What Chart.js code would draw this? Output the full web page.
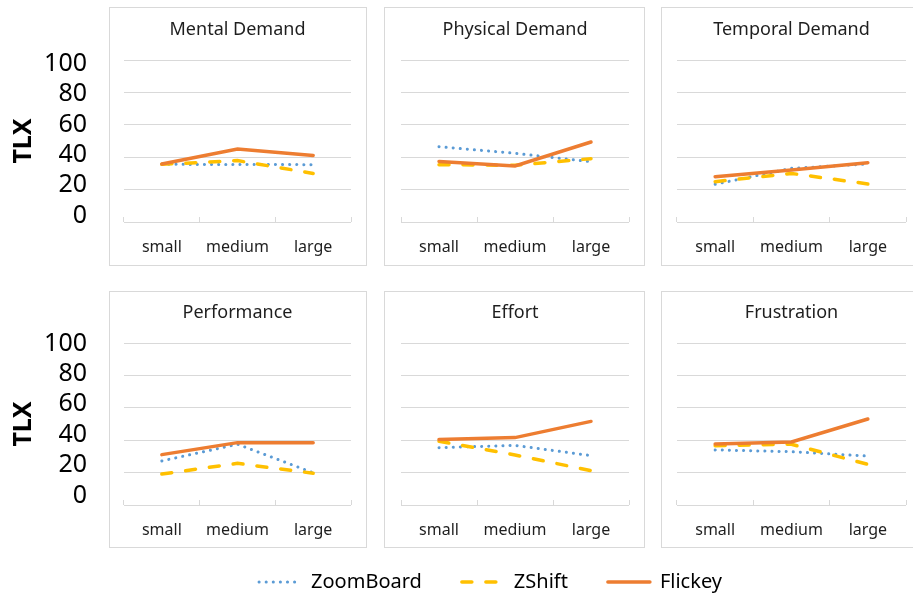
<!DOCTYPE html>
<html>
<head>
<meta charset="utf-8">
<script src="https://cdn.jsdelivr.net/npm/chart.js@4.4.1/dist/chart.umd.min.js"></script>
<style>
  html, body { margin: 0; padding: 0; background: #fff; }
  body { width: 913px; height: 597px; position: relative; overflow: hidden; }
  .box { position: absolute; border: 1px solid #d9d9d9; box-sizing: border-box; }
  canvas { position: absolute; }
</style>
</head>
<body>
<script>
const sizes = ['small', 'medium', 'large'];
const seriesNames = ['ZoomBoard', 'ZShift', 'Flickey'];
const panelTitles = ['Mental Demand', 'Physical Demand', 'Temporal Demand',
                     'Performance', 'Effort', 'Frustration'];

// TLX per panel (same order as panelTitles), values for small / medium / large
const zoomBoard = [
  [35.6, 35.5, 35.4],
  [46.5, 42.4, 37.2],
  [23.3, 33.1, 35.8],
  [27.2, 37.5, 19.9],
  [35.4, 36.8, 30.5],
  [34.0, 32.9, 30.2]
];
const zShift = [
  [35.6, 37.9, 30.0],
  [35.4, 35.0, 39.1],
  [24.9, 30.0, 23.5],
  [19.1, 25.7, 19.6],
  [39.3, 30.9, 21.2],
  [36.6, 37.5, 25.1]
];
const flickey = [
  [35.8, 45.1, 41.1],
  [37.4, 34.6, 49.4],
  [28.0, 32.1, 36.6],
  [31.1, 38.5, 38.5],
  [40.5, 41.6, 51.6],
  [37.7, 38.9, 53.1]
];
const seriesData = [zoomBoard, zShift, flickey];

const gridColor = '#d9d9d9';
const textColor = '#1e1e1e';

Chart.defaults.font.family = "'Noto Sans', sans-serif";

const seriesStyle = [
  { borderColor: '#5B9BD5', borderWidth: 3, borderDash: [0.1, 7], borderCapStyle: 'round' },
  { borderColor: '#FFC000', borderWidth: 3.5, borderDash: [10, 14], borderCapStyle: 'round' },
  { borderColor: '#ED7D31', borderWidth: 3.5, borderDash: [], borderCapStyle: 'round' }
];

// layout of the 2x3 grid of framed panels
const cols = [
  { boxLeft: 109, boxW: 258, left: 0,   w: 367, padL: 0,  padR: 16 },
  { boxLeft: 384, boxW: 261, left: 384, w: 261, padL: 17, padR: 16 },
  { boxLeft: 661, boxW: 254, left: 661, w: 252, padL: 16, padR: 7 }
];
const rows = [
  { top: 7,   h: 259, titleTop: 12.2, titleBottom: 19.2, axisH: 44, lblMin: -4.2, lblMax: 102.5 },
  { top: 291, h: 257, titleTop: 11.5, titleBottom: 18.9, axisH: 43, lblMin: -6.1, lblMax: 100.3 }
];

function makePanel(i) {
  const row = rows[Math.floor(i / 3)];
  const col = cols[i % 3];
  const leftCol = i % 3 === 0;

  const box = document.createElement('div');
  box.className = 'box';
  box.style.left = col.boxLeft + 'px';
  box.style.top = row.top + 'px';
  box.style.width = col.boxW + 'px';
  box.style.height = row.h + 'px';
  document.body.appendChild(box);

  const cv = document.createElement('canvas');
  cv.width = col.w;
  cv.height = row.h;
  cv.style.left = col.left + 'px';
  cv.style.top = row.top + 'px';
  document.body.appendChild(cv);

  const scales = {
    x: {
      type: 'category',
      offset: true,
      border: { display: false },
      grid: { offset: true, drawOnChartArea: false, drawTicks: true, tickLength: -5, color: gridColor },
      ticks: { font: { size: 16 }, color: textColor, padding: 20.4 },
      afterFit: s => { s.height = row.axisH; }
    },
    y: {
      min: 0, max: 100,
      weight: 0,
      border: { display: false },
      grid: { color: gridColor, drawTicks: false },
      ticks: { display: false, stepSize: 20 }
    }
  };
  if (leftCol) {
    // gap between the tick labels and the plot
    scales.y.afterFit = s => { s.width = 37; };
    // tick labels and axis title only on the left column
    scales.yl = {
      position: 'left',
      weight: 1,
      min: row.lblMin, max: row.lblMax,
      border: { display: false },
      grid: { display: false, drawTicks: false },
      ticks: { stepSize: 20, includeBounds: false, autoSkip: false, padding: 0,
               font: { size: 25 }, color: '#000' },
      title: { display: true, text: 'TLX', color: '#000',
               font: { size: 25, weight: 'bold' }, padding: { top: 9, bottom: 0 } },
      afterFit: s => { s.width = 87; }
    };
  }

  new Chart(cv, {
    type: 'line',
    data: {
      labels: sizes,
      datasets: seriesNames.map((name, k) => ({
        label: name,
        data: seriesData[k][i],
        ...seriesStyle[k],
        pointRadius: 0,
        fill: false,
        tension: 0,
        order: 3 - k
      }))
    },
    options: {
      responsive: false,
      animation: false,
      layout: { padding: { left: col.padL, right: col.padR, top: 0, bottom: 0 } },
      scales: scales,
      plugins: {
        legend: { display: false },
        tooltip: { enabled: false },
        title: {
          display: true,
          text: panelTitles[i],
          fullSize: false,
          color: textColor,
          font: { size: 18, weight: 'normal' },
          padding: { top: row.titleTop, bottom: row.titleBottom }
        }
      }
    }
  });
}

for (let i = 0; i < 6; i++) makePanel(i);

// shared legend along the bottom
const lc = document.createElement('canvas');
lc.width = 913;
lc.height = 240;
lc.style.left = '34px';
lc.style.top = '532px';
document.body.appendChild(lc);

new Chart(lc, {
  type: 'line',
  data: {
    labels: [],
    datasets: seriesNames.map((name, k) => ({ label: name, data: [], ...seriesStyle[k] }))
  },
  options: {
    responsive: false,
    animation: false,
    scales: { x: { display: false }, y: { display: false } },
    plugins: {
      tooltip: { enabled: false },
      legend: {
        display: true,
        position: 'top',
        labels: {
          usePointStyle: true,
          pointStyleWidth: 42,
          font: { size: 20 },
          color: '#000',
          padding: 40,
          // take the line look from the datasets, not from their (empty) points
          generateLabels: chart => chart.data.datasets.map((ds, k) => ({
            text: ds.label,
            datasetIndex: k,
            hidden: false,
            pointStyle: 'line',
            strokeStyle: ds.borderColor,
            fillStyle: ds.borderColor,
            lineWidth: ds.borderWidth,
            lineDash: ds.borderDash,
            lineCap: ds.borderCapStyle,
            fontColor: '#000'
          }))
        }
      }
    }
  }
});
</script>
</body>
</html>
